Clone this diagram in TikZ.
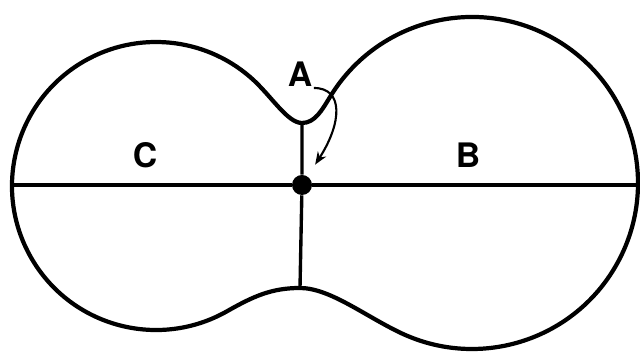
\documentclass[tikz,border=0pt]{standalone}
\usepackage{fontspec}
\setsansfont{TeX Gyre Heros}
\usetikzlibrary{arrows.meta}

\begin{document}
\begin{tikzpicture}[
  x=0.025cm, y=-0.025cm,
  outline/.style={line width=3pt, line join=round},
  divider/.style={line width=2.4pt},
  pointer/.style={-{Stealth[length=9pt,width=7pt]}, line width=1.5pt, shorten >=0.35cm},
  lbl/.style={font=\sffamily\bfseries\fontsize{24}{24}\selectfont, inner sep=1pt}
]
\useasboundingbox (0,0) rectangle (640,352);

% key points
\coordinate (dip) at (302,123);
\coordinate (peak) at (300,288);
\coordinate (west) at (12,185);
\coordinate (east) at (638,185);
\node[circle, fill, inner sep=0pt, minimum size=0.5cm] (mid) at (302,185) {};

% the two lobes
\draw[outline] (dip) .. controls (315,123) and (322,110) .. (330,97)
  arc[start angle=211.2, end angle=475, radius=166]
  .. controls (365.6,316.5) and (330,288) .. (peak)
  .. controls (272,288) and (254,296) .. (228,310.7)
  arc[start angle=60, end angle=310.8, radius=144]
  .. controls (271,95) and (287,123) .. cycle;

\draw[divider] (west) -- (mid) -- (east);
\draw[divider] (dip) -- (mid) -- (peak);

\node[lbl] (lblC) at (145,155) {C};
\node[lbl] (lblB) at (468,155) {B};
\node[lbl] (lblA) at (300,74) {A};

\draw[pointer] (lblA.south east) .. controls +(30,0) and +(40,-62) .. (mid);
\end{tikzpicture}
\end{document}
